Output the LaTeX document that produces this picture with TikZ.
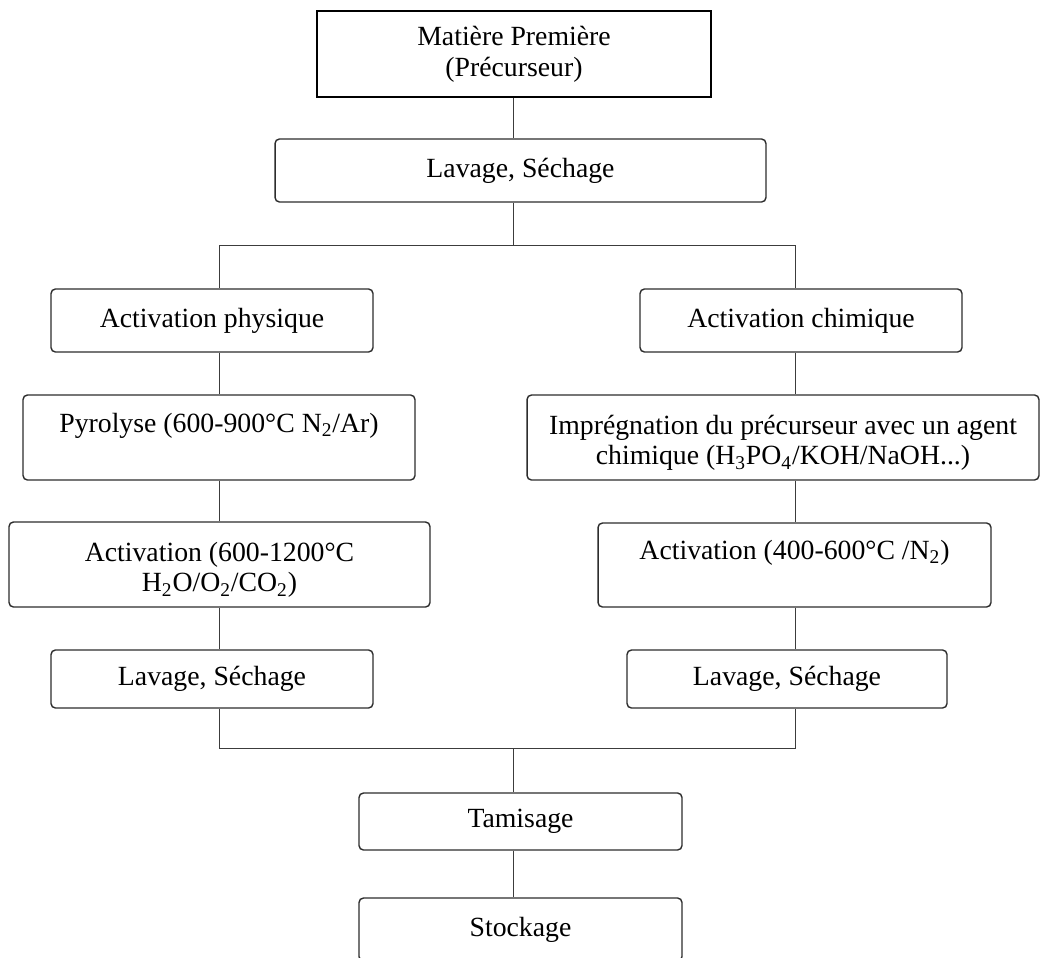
\documentclass[tikz,border=0pt]{standalone}
\usepackage{fontspec}
\setmainfont{Liberation Serif}
\usetikzlibrary{positioning,calc}
\definecolor{boxgray}{RGB}{45,45,45}
\definecolor{linegray}{RGB}{60,60,60}

\begin{document}
\begin{tikzpicture}[
    x=0.02cm, y=-0.02cm,
    stepbox/.style={draw=boxgray, rounded corners=2.5pt, line width=0.8pt, align=center,
                  inner sep=2pt, font=\fontsize{15.8pt}{17.6pt}\selectfont},
    srcbox/.style={draw=black, line width=1.1pt, align=center,
                  font=\fontsize{15.8pt}{17.6pt}\selectfont},
    link/.style={draw=linegray, line width=0.55pt}
]
\useasboundingbox (0,0) rectangle (1040,957);

% Raw material
\node[srcbox, minimum width=7.88cm, minimum height=1.72cm] (raw) at (514,54)
    {Matière Première\\(Précurseur)};
\node[stepbox, minimum width=9.82cm, minimum height=1.26cm] (wash) at (520.5,170.5)
    {Lavage, Séchage};

% Physical route
\node[stepbox, minimum width=6.44cm, minimum height=1.26cm] (actphy) at (212,320.5)
    {Activation physique};
\node[stepbox, minimum width=7.84cm, minimum height=1.70cm] (pyro) at (219,437.5)
    {\rule{0pt}{17pt}Pyrolyse (600-900°C N\textsubscript{2}/Ar)\\\strut};
\node[stepbox, minimum width=8.42cm, minimum height=1.70cm] (actgas) at (219.5,564.5)
    {\rule{0pt}{17pt}Activation (600-1200°C\\H\textsubscript{2}O/O\textsubscript{2}/CO\textsubscript{2})};
\node[stepbox, minimum width=6.44cm, minimum height=1.16cm] (washphy) at (212,679)
    {Lavage, Séchage};

% Chemical route
\node[stepbox, minimum width=6.44cm, minimum height=1.26cm] (actchi) at (801,320.5)
    {Activation chimique};
\node[stepbox, minimum width=10.24cm, minimum height=1.70cm] (impreg) at (783,437.5)
    {\rule{0pt}{17pt}Imprégnation du précurseur avec un agent\\chimique (H\textsubscript{3}PO\textsubscript{4}/KOH/NaOH...)};
\node[stepbox, minimum width=7.86cm, minimum height=1.68cm] (actnit) at (794.5,565)
    {\rule{0pt}{17pt}Activation (400-600°C /N\textsubscript{2})\\\strut};
\node[stepbox, minimum width=6.40cm, minimum height=1.16cm] (washchi) at (787,679)
    {Lavage, Séchage};

% Final steps
\node[stepbox, minimum width=6.46cm, minimum height=1.14cm] (sieve) at (520.5,821.5)
    {Tamisage};
\node[stepbox, minimum width=6.46cm, minimum height=1.26cm] (store) at (520.5,929.5)
    {Stockage};

% Branch points
\coordinate (split) at (513,245);
\coordinate (splitL) at (219,245);
\coordinate (splitR) at (795,245);
\coordinate (join) at (513,748);
\coordinate (joinL) at (219,748);
\coordinate (joinR) at (795,748);

% Connectors
\draw[link] (raw.south -| split) -- (wash.north -| split);
\draw[link] (wash.south -| split) -- (split);
\draw[link] (splitL) -- (splitR);
\draw[link] (splitL) -- (actphy.north -| splitL);
\draw[link] (splitR) -- (actchi.north -| splitR);
\foreach \a/\b in {actphy/pyro, pyro/actgas, actgas/washphy}
    \draw[link] (\a.south -| splitL) -- (\b.north -| splitL);
\foreach \a/\b in {actchi/impreg, impreg/actnit, actnit/washchi}
    \draw[link] (\a.south -| splitR) -- (\b.north -| splitR);
\draw[link] (washphy.south -| joinL) -- (joinL) -- (joinR) -- (washchi.south -| joinR);
\draw[link] (join) -- (sieve.north -| join);
\draw[link] (sieve.south -| join) -- (store.north -| join);

\end{tikzpicture}
\end{document}
